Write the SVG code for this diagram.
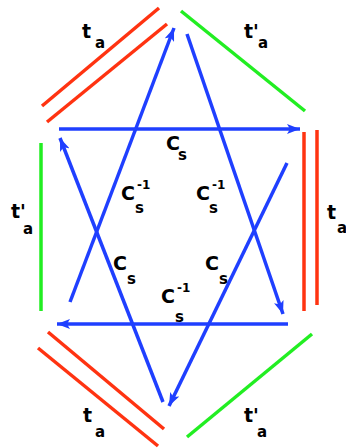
<svg xmlns="http://www.w3.org/2000/svg" width="346" height="448" viewBox="0 0 346 448">
<style>
.b{stroke:#1f3fff;stroke-width:3.5;fill:none;marker-end:url(#ah)}
.r{stroke:#ff3311;stroke-width:3.5;fill:none}
.g{stroke:#22ee22;stroke-width:3.5;fill:none}
text{font-family:"DejaVu Sans","Liberation Sans",sans-serif;font-weight:bold;fill:#000}
.m{font-size:19px}
.s{font-size:15px}
.p{font-size:12px}
</style>
<defs>
<marker id="ah" markerUnits="userSpaceOnUse" markerWidth="14" markerHeight="10" refX="13" refY="5" orient="auto">
<path d="M0,0 L13,5 L0,10 L3,5 z" fill="#1f3fff"/>
</marker>
</defs>
<rect width="346" height="448" fill="#fff"/>
<g id="sides">
<line class="r" x1="42" y1="106" x2="159" y2="8"/>
<line class="r" x1="47" y1="122" x2="167" y2="24"/>
<line class="g" x1="181" y1="11" x2="305" y2="111"/>
<line class="r" x1="304" y1="132" x2="304" y2="311"/>
<line class="r" x1="317" y1="130" x2="317" y2="305"/>
<line class="g" x1="41" y1="143" x2="41" y2="311"/>
<line class="r" x1="38" y1="348" x2="158" y2="446"/>
<line class="r" x1="48" y1="332" x2="164" y2="429"/>
<line class="g" x1="312" y1="334" x2="187" y2="437"/>
</g>
<g id="connectors">
<line class="b" x1="70" y1="302" x2="174" y2="28"/>
<line class="b" x1="187" y1="34" x2="283" y2="314"/>
<line class="b" x1="288" y1="324" x2="57" y2="324"/>
<line class="b" x1="59" y1="129" x2="300" y2="129"/>
<line class="b" x1="287" y1="163" x2="169" y2="406"/>
<line class="b" x1="163" y1="402" x2="60" y2="138"/>
</g>
<g id="labels">
<text class="m" x="82" y="38">t</text><text class="s" x="95" y="48">a</text>
<text class="m" x="244" y="38">t'</text><text class="s" x="258" y="48">a</text>
<text class="m" x="11" y="218">t'</text><text class="s" x="23" y="234">a</text>
<text class="m" x="327" y="219">t</text><text class="s" x="337" y="233">a</text>
<text class="m" x="83" y="422">t</text><text class="s" x="95" y="437">a</text>
<text class="m" x="244" y="422">t'</text><text class="s" x="257" y="437">a</text>
<text class="m" x="166" y="150">C</text><text class="s" x="178" y="160">s</text>
<text class="m" x="121" y="200">C</text><text class="p" x="137" y="189">-1</text><text class="s" x="135" y="213">s</text>
<text class="m" x="196" y="200">C</text><text class="p" x="212" y="189">-1</text><text class="s" x="209" y="213">s</text>
<text class="m" x="113" y="270">C</text><text class="s" x="127" y="284">s</text>
<text class="m" x="205" y="270">C</text><text class="s" x="219" y="284">s</text>
<text class="m" x="161" y="303">C</text><text class="p" x="177" y="292">-1</text><text class="s" x="175" y="322">s</text>
</g>
</svg>
